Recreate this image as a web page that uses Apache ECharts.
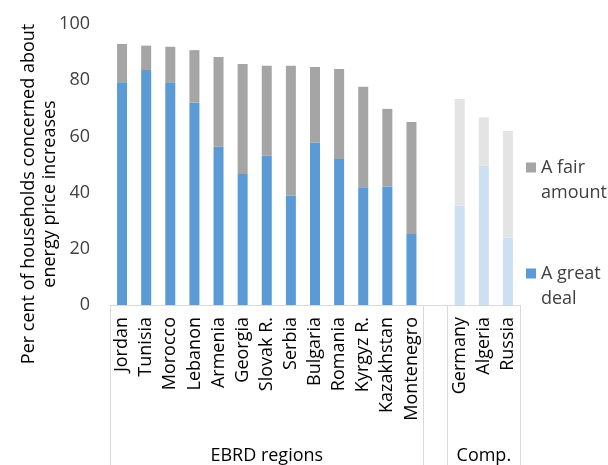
<!DOCTYPE html>
<html>
<head>
<meta charset="utf-8">
<script src="https://cdn.jsdelivr.net/npm/echarts@6/dist/echarts.min.js"></script>
<style>
  html, body { margin: 0; padding: 0; background: #fff; }
  #chart { width: 608px; height: 465px; }
</style>
</head>
<body>
<div id="chart"></div>
<script>
// EBRD region countries, then a blank slot, then comparator countries
const ebrdCountries = ['Jordan', 'Tunisia', 'Morocco', 'Lebanon', 'Armenia', 'Georgia', 'Slovak R.',
  'Serbia', 'Bulgaria', 'Romania', 'Kyrgyz R.', 'Kazakhstan', 'Montenegro']
const compCountries = ['Germany', 'Algeria', 'Russia']

const ebrdGreatDeal = [79.3, 83.6, 79.3, 72.0, 56.3, 46.6, 53.1, 38.9, 57.8, 52.0, 41.9, 42.2, 25.3]
const ebrdFairAmount = [13.6, 8.7, 12.6, 18.7, 32.0, 39.2, 32.0, 46.2, 26.9, 32.0, 35.8, 27.6, 39.8]
const compGreatDeal = [35.3, 49.6, 24.0]
const compFairAmount = [38.0, 17.2, 37.9]

const groupNames = ['EBRD regions', 'Comp.']
const yTicks = [0, 20, 40, 60, 80, 100]

const colors = {
  great: '#5B9BD5',
  fair: '#A5A5A5',
  greatLight: '#CCE0F2',
  fairLight: '#E4E4E4'
}

const font = 'Open Sans'

// build category list with an empty slot between the groups
const categories = ebrdCountries.concat([''], compCountries)

function buildSeries (ebrd, comp, lightColor) {
  const out = ebrd.map(v => v)
  out.push(null)
  comp.forEach(v => out.push({ value: v, itemStyle: { color: lightColor } }))
  return out
}

const greatData = buildSeries(ebrdGreatDeal, compGreatDeal, colors.greatLight)
const fairData = buildSeries(ebrdFairAmount, compFairAmount, colors.fairLight)

// second axis carries only the group names, centred on each group
const groupAxis = categories.map(() => '')
groupAxis[Math.floor(ebrdCountries.length / 2)] = groupNames[0]
groupAxis[ebrdCountries.length + 1 + Math.floor(compCountries.length / 2)] = groupNames[1]
const groupEdges = [0, ebrdCountries.length, ebrdCountries.length + 1]

// square legend marker sitting at the top of a taller box, so it lines up with the first text line
const legendIcon = 'path://M0,0L10,0L10,10L0,10Z M0,35L0,35'

const chart = echarts.init(document.getElementById('chart'))
chart.setOption({
  animation: false,
  textStyle: { fontFamily: font },
  grid: { left: 110, right: 88, top: 24, bottom: 160, containLabel: false },
  legend: {
    orient: 'vertical',
    left: 521,
    top: 150,
    itemWidth: 10,
    itemHeight: 35,
    itemGap: 56,
    icon: legendIcon,
    data: ['A fair amount', 'A great deal'],
    formatter: function (name) {
      return name === 'A fair amount' ? 'A fair\namount' : 'A great\ndeal'
    },
    textStyle: { fontFamily: font, fontSize: 18, color: '#404040', lineHeight: 25 }
  },
  graphic: [{
    type: 'text',
    x: 39,
    y: 194,
    rotation: Math.PI / 2,
    style: {
      text: 'Per cent of households concerned about\nenergy price increases',
      font: '18px "Open Sans"',
      fill: '#000',
      align: 'center',
      verticalAlign: 'middle',
      lineHeight: 21
    }
  }],
  xAxis: [{
    type: 'category',
    data: categories,
    axisLine: { lineStyle: { color: '#D9D9D9', width: 1 } },
    axisTick: {
      show: true,
      length: 170,
      interval: function (index) { return groupEdges.indexOf(index) >= 0 },
      lineStyle: { color: '#D9D9D9' }
    },
    axisLabel: {
      rotate: 90,
      interval: 0,
      margin: 12,
      fontFamily: font,
      fontSize: 18,
      color: '#000'
    }
  }, {
    type: 'category',
    data: groupAxis,
    position: 'bottom',
    offset: 136,
    axisLine: { show: false },
    axisTick: { show: false },
    axisLabel: { interval: 0, margin: 6, fontFamily: font, fontSize: 18, color: '#000' }
  }],
  yAxis: {
    type: 'value',
    min: yTicks[0],
    max: yTicks[yTicks.length - 1],
    interval: 20,
    axisLine: { show: false },
    axisTick: { show: false },
    splitLine: { show: false },
    axisLabel: { margin: 20, fontFamily: font, fontSize: 18, color: '#404040' }
  },
  series: [{
    name: 'A great deal',
    type: 'bar',
    stack: 'total',
    barWidth: 10,
    itemStyle: { color: colors.great },
    data: greatData
  }, {
    name: 'A fair amount',
    type: 'bar',
    stack: 'total',
    barWidth: 10,
    itemStyle: { color: colors.fair },
    data: fairData
  }]
})
</script>
</body>
</html>
